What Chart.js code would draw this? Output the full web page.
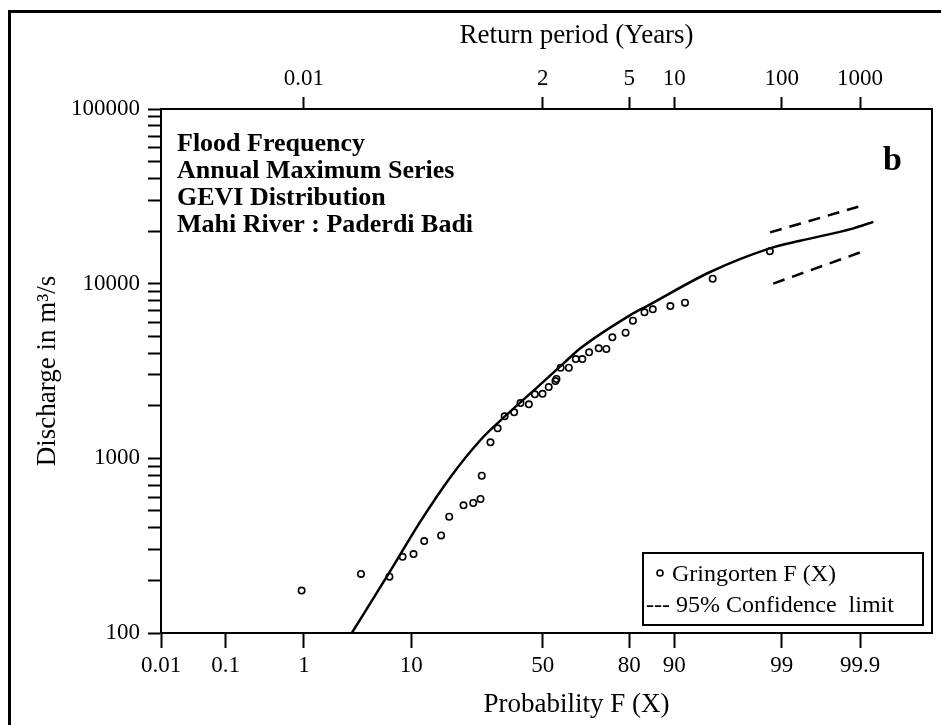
<!DOCTYPE html>
<html>
<head>
<meta charset="utf-8">
<title>Flood Frequency - Mahi River : Paderdi Badi</title>
<script src="https://cdn.jsdelivr.net/npm/chart.js@4/dist/chart.umd.min.js"></script>
<style>
  html, body { margin: 0; padding: 0; background: #fff; }
  #wrap { position: relative; width: 941px; height: 725px; overflow: hidden; }
  #frame { position: absolute; left: 8px; top: 10px; width: 1000px; height: 1000px; border: 3px solid #000; box-sizing: border-box; }
  #chart { position: absolute; left: 0; top: 0; }
</style>
</head>
<body>
<div id="wrap">
  <div id="frame"></div>
  <canvas id="chart" width="941" height="725"></canvas>
</div>
<script>
const FONT = '"Liberation Serif", "Times New Roman", serif';

// Gringorten plotting positions (non-exceedance probability, %) and discharge (m3/s)
const gringortenProb = [0.94, 3.83, 6.76, 8.6, 10.4, 12.4, 16.1, 18.1, 22.0, 24.9, 27.2, 27.6, 30.5, 33.0, 35.5, 39.0, 41.4, 44.6, 46.9, 49.9, 52.3, 54.9, 55.3, 56.9, 60.0, 62.6, 65.0, 67.4, 70.7, 73.2, 75.1, 79.0, 81.0, 83.9, 85.8, 89.3, 91.7, 95.1, 98.65];
const gringortenQ = [175, 218, 210, 273, 283, 336, 362, 463, 538, 555, 585, 795, 1235, 1485, 1740, 1834, 2073, 2037, 2325, 2342, 2560, 2770, 2845, 3300, 3300, 3700, 3700, 4045, 4263, 4225, 4930, 5240, 6135, 6850, 7130, 7445, 7780, 10670, 15310];

// fitted GEV I curve
const curveProb = [3.14, 6.7, 11.7, 18.5, 27.2, 32.9, 49.1, 58.0, 64.3, 80.3, 84.5, 94.9, 98.65, 99.39, 99.876, 99.936];
const curveQ = [100, 220, 437, 785, 1273, 1586, 2650, 3497, 4265, 6610, 7445, 11700, 15920, 17600, 20740, 22600];

// 95% confidence limits
const upperProb = [98.66, 99.894];
const upperQ = [19670, 27560];
const lowerProb = [98.76, 99.906];
const lowerQ = [10015, 15230];

// axis ticks
const probTicks = [0.01, 0.1, 1, 10, 50, 80, 90, 99, 99.9];
const returnPeriodLabels = ['0.01', '2', '5', '10', '100', '1000'];
const returnPeriodProb = [1, 50, 80, 90, 99, 99.9];
const dischargeDecades = [100, 1000, 10000, 100000];

const headingLines = ['Flood Frequency', 'Annual Maximum Series', 'GEVI Distribution', 'Mahi River : Paderdi Badi'];

// inverse standard normal CDF (Acklam)
function probit(p) {
  const a = [-39.69683028665376, 220.9460984245205, -275.9285104469687, 138.3577518672690, -30.66479806614716, 2.506628277459239];
  const b = [-54.47609879822406, 161.5858368580409, -155.6989798598866, 66.80131188771972, -13.28068155288572];
  const c = [-0.007784894002430293, -0.3223964580411365, -2.400758277161838, -2.549732539343734, 4.374664141464968, 2.938163982698783];
  const d = [0.007784695709041462, 0.3224671290700398, 2.445134137142996, 3.754408661907416];
  const pl = 0.02425;
  if (p < pl) {
    const q = Math.sqrt(-2 * Math.log(p));
    return (((((c[0] * q + c[1]) * q + c[2]) * q + c[3]) * q + c[4]) * q + c[5]) / ((((d[0] * q + d[1]) * q + d[2]) * q + d[3]) * q + 1);
  }
  if (p > 1 - pl) {
    const q = Math.sqrt(-2 * Math.log(1 - p));
    return -(((((c[0] * q + c[1]) * q + c[2]) * q + c[3]) * q + c[4]) * q + c[5]) / ((((d[0] * q + d[1]) * q + d[2]) * q + d[3]) * q + 1);
  }
  const q = p - 0.5, r = q * q;
  return (((((a[0] * r + a[1]) * r + a[2]) * r + a[3]) * r + a[4]) * r + a[5]) * q / (((((b[0] * r + b[1]) * r + b[2]) * r + b[3]) * r + b[4]) * r + 1);
}

function normCdf(z) {
  // Abramowitz-Stegun 26.2.17
  const t = 1 / (1 + 0.2316419 * Math.abs(z));
  const y = 0.3989422804 * Math.exp(-z * z / 2) * t * (0.319381530 + t * (-0.356563782 + t * (1.781477937 + t * (-1.821255978 + t * 1.330274429))));
  return z > 0 ? 1 - y : y;
}

// normal probability paper axis, values in percent
class ProbabilityScale extends Chart.Scale {
  determineDataLimits() {
    this.min = this.options.min;
    this.max = this.options.max;
  }
  buildTicks() {
    return [];
  }
  configure() {
    super.configure();
    this._zMin = probit(this.min / 100);
    this._zMax = probit(this.max / 100);
  }
  getLabelForValue(value) {
    return String(value);
  }
  getPixelForValue(value) {
    const z = probit(value / 100);
    return this.getPixelForDecimal((z - this._zMin) / (this._zMax - this._zMin));
  }
  getValueForPixel(pixel) {
    const z = this._zMin + this.getDecimalForPixel(pixel) * (this._zMax - this._zMin);
    return normCdf(z) * 100;
  }
}
ProbabilityScale.id = 'probability';
ProbabilityScale.defaults = {};
Chart.register(ProbabilityScale);

const toPoints = (xs, ys) => xs.map((x, i) => ({ x: x, y: ys[i] }));

const overlay = {
  id: 'overlay',
  afterDraw(chart) {
    const { ctx, chartArea: a } = chart;
    const midX = (a.left + a.right) / 2 + 30;
    ctx.save();
    ctx.strokeStyle = '#000';
    ctx.fillStyle = '#000';
    ctx.lineWidth = 2;
    ctx.strokeRect(a.left, a.top, a.right - a.left, a.bottom - a.top);

    // axis titles for the two probability axes
    ctx.font = '27px ' + FONT;
    ctx.textAlign = 'center';
    ctx.textBaseline = 'alphabetic';
    ctx.fillText('Return period (Years)', midX, 43);
    ctx.fillText('Probability F (X)', midX, 712);

    // heading block
    ctx.textAlign = 'left';
    ctx.font = 'bold 26px ' + FONT;
    headingLines.forEach((t, i) => ctx.fillText(t, a.left + 16, a.top + 42 + i * 27));

    ctx.font = 'bold 34px ' + FONT;
    ctx.fillText('b', a.right - 49, a.top + 61);

    // legend
    const lw = 280, lh = 72;
    const lx = a.right - 9 - lw, ly = a.bottom - 8 - lh;
    ctx.fillStyle = '#fff';
    ctx.fillRect(lx, ly, lw, lh);
    ctx.fillStyle = '#000';
    ctx.lineWidth = 2;
    ctx.strokeRect(lx, ly, lw, lh);
    ctx.lineWidth = 1.6;
    ctx.beginPath();
    ctx.arc(lx + 17, ly + 20, 3, 0, Math.PI * 2);
    ctx.stroke();
    ctx.font = '24px ' + FONT;
    ctx.fillText('Gringorten F (X)', lx + 29, ly + 28);
    ctx.fillText('--- 95% Confidence  limit', lx + 3, ly + 59);
    ctx.restore();
  }
};

const tickFont = { family: FONT, size: 23 };

new Chart(document.getElementById('chart').getContext('2d'), {
  type: 'scatter',
  data: {
    datasets: [
      {
        label: 'Gringorten F (X)',
        data: toPoints(gringortenProb, gringortenQ),
        pointStyle: 'circle',
        pointRadius: 3.2,
        borderWidth: 1.6,
        borderColor: '#000',
        backgroundColor: 'rgba(0,0,0,0)',
      },
      {
        label: 'GEVI',
        data: toPoints(curveProb, curveQ),
        showLine: true,
        pointRadius: 0,
        borderColor: '#000',
        borderWidth: 2.5,
        cubicInterpolationMode: 'monotone',
      },
      {
        label: 'Upper 95%',
        data: toPoints(upperProb, upperQ),
        showLine: true,
        pointRadius: 0,
        borderColor: '#000',
        borderWidth: 2.5,
        borderDash: [12, 8],
      },
      {
        label: 'Lower 95%',
        data: toPoints(lowerProb, lowerQ),
        showLine: true,
        pointRadius: 0,
        borderColor: '#000',
        borderWidth: 2.5,
        borderDash: [12, 8],
      },
    ],
  },
  options: {
    responsive: false,
    animation: false,
    events: [],
    layout: { padding: { left: 28, top: 0, right: 9, bottom: 0 } },
    plugins: {
      legend: { display: false },
      tooltip: { enabled: false },
    },
    scales: {
      x: {
        type: 'probability',
        position: 'bottom',
        min: 0.01,
        max: 99.9925,
        afterBuildTicks: (s) => { s.ticks = probTicks.map((v) => ({ value: v })); },
        afterFit: (s) => { s.height = 92; },
        border: { color: '#000', width: 2 },
        grid: { drawOnChartArea: false, tickLength: 15, tickWidth: 2, tickColor: '#000' },
        ticks: { autoSkip: false, maxRotation: 0, color: '#000', font: tickFont, padding: 4 },
      },
      x2: {
        type: 'probability',
        position: 'top',
        min: 0.01,
        max: 99.9925,
        afterBuildTicks: (s) => { s.ticks = returnPeriodProb.map((v) => ({ value: v })); },
        afterFit: (s) => { s.height = 109; },
        border: { color: '#000', width: 2 },
        grid: { drawOnChartArea: false, tickLength: 12, tickWidth: 2, tickColor: '#000' },
        ticks: {
          autoSkip: false,
          maxRotation: 0,
          color: '#000',
          font: tickFont,
          padding: 4,
          callback: (v, i) => returnPeriodLabels[i],
        },
      },
      y: {
        type: 'logarithmic',
        position: 'left',
        min: 100,
        max: 100000,
        afterBuildTicks: (s) => {
          const ticks = [];
          dischargeDecades.forEach((d, i) => {
            ticks.push({ value: d, major: true });
            if (i < dischargeDecades.length - 1) {
              for (let m = 2; m <= 9; m++) ticks.push({ value: d * m, major: false });
            }
          });
          s.ticks = ticks;
        },
        afterFit: (s) => { s.width = 133; },
        border: { color: '#000', width: 2 },
        grid: { drawOnChartArea: false, tickLength: 13, tickWidth: 2, tickColor: '#000' },
        ticks: {
          autoSkip: false,
          color: '#000',
          font: tickFont,
          padding: 8,
          callback: (v) => (dischargeDecades.includes(v) ? String(v) : ''),
        },
        title: {
          display: true,
          text: 'Discharge in m³/s',
          color: '#000',
          font: { family: FONT, size: 27 },
          padding: { top: 4, bottom: 0 },
        },
      },
    },
  },
  plugins: [overlay],
});
</script>
</body>
</html>
